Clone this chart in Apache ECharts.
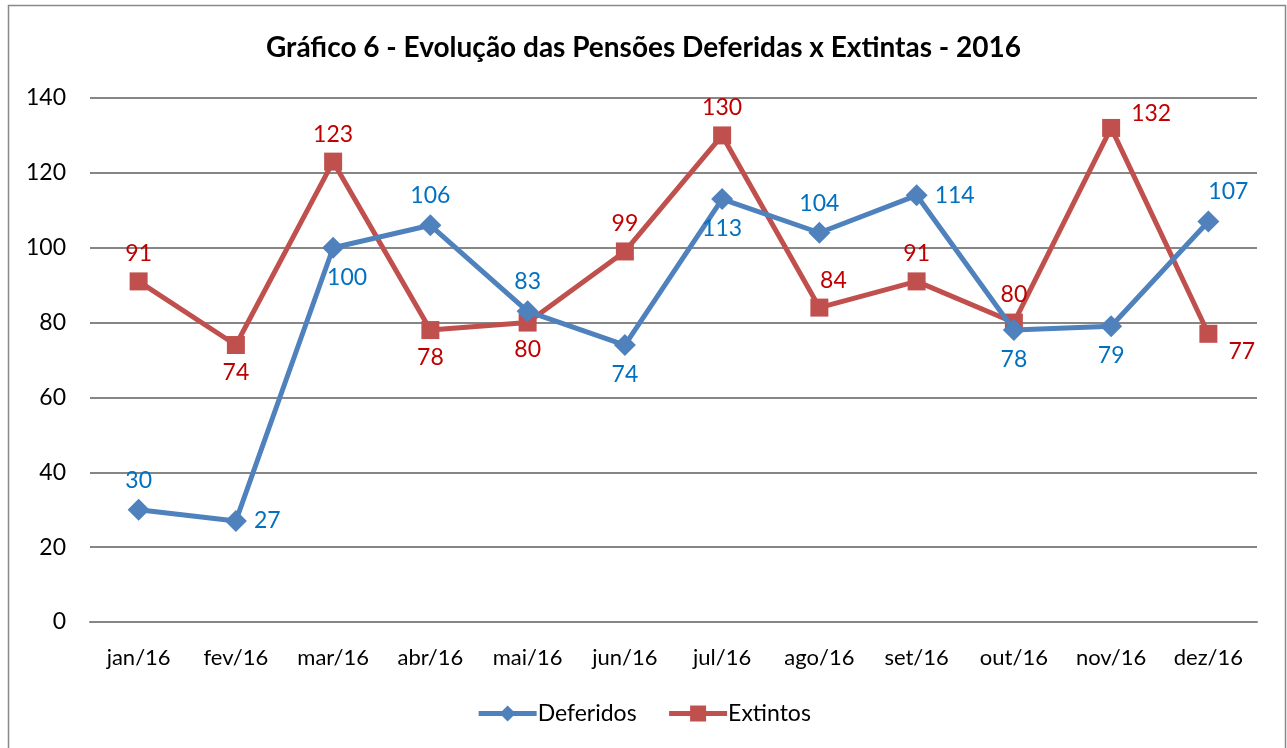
<!DOCTYPE html>
<html>
<head>
<meta charset="utf-8">
<script src="https://cdn.jsdelivr.net/npm/echarts@6/dist/echarts.min.js"></script>
<style>
  html, body { margin: 0; padding: 0; background: #fff; }
  #chart { width: 1287px; height: 748px; }
</style>
</head>
<body>
<div id="chart"></div>
<script>
const months = ['jan/16', 'fev/16', 'mar/16', 'abr/16', 'mai/16', 'jun/16', 'jul/16', 'ago/16', 'set/16', 'out/16', 'nov/16', 'dez/16']
const deferidos = [30, 27, 100, 106, 83, 74, 113, 104, 114, 78, 79, 107]
const extintos = [91, 74, 123, 78, 80, 99, 130, 84, 91, 80, 132, 77]

// where each data label sits relative to its point
const deferidosLabelPos = ['top', 'right', 'bottom', 'top', 'top', 'bottom', 'bottom', 'top', 'right', 'bottom', 'bottom', 'top']
const extintosLabelPos = ['top', 'bottom', 'top', 'bottom', 'bottom', 'top', 'top', 'top', 'top', 'top', 'right', 'right']
const deferidosLabelOffset = { 2: [14, 0], 11: [20, 0] }
const extintosLabelOffset = { 7: [14, 0], 10: [4, -14], 11: [4, 18] }

const fontFamily = 'Lato, "Open Sans", sans-serif'

function buildData(values, positions, offsets) {
  return values.map((v, i) => ({
    value: v,
    label: {
      position: positions[i],
      offset: offsets[i] || [0, 0]
    }
  }))
}

const chart = echarts.init(document.getElementById('chart'))
chart.setOption({
  backgroundColor: '#fff',
  animation: false,
  textStyle: { fontFamily: fontFamily },
  title: {
    text: 'Gráfico 6 - Evolução das Pensões Deferidas x Extintas - 2016',
    left: 'center',
    top: 29,
    textStyle: { fontSize: 28, fontWeight: 'bold', color: '#000', fontFamily: fontFamily }
  },
  graphic: [{
    type: 'rect',
    shape: { x: 8.5, y: 5.5, width: 1277, height: 760 },
    style: { fill: 'none', stroke: '#888', lineWidth: 1.5 },
    silent: true
  }],
  legend: {
    bottom: 18,
    left: 'center',
    itemWidth: 58,
    itemHeight: 20,
    itemGap: 30,
    lineStyle: { width: 5 },
    textStyle: { fontSize: 23, color: '#000', fontFamily: fontFamily, padding: [0, 0, 0, -4] },
    data: ['Deferidos', 'Extintos']
  },
  grid: { left: 90, right: 30, top: 98, bottom: 126 },
  xAxis: {
    type: 'category',
    data: months,
    boundaryGap: true,
    axisLine: { lineStyle: { color: '#868686', width: 2 } },
    axisTick: { show: false },
    axisLabel: { interval: 0, fontSize: 22, color: '#000', margin: 25, fontFamily: fontFamily }
  },
  yAxis: {
    type: 'value',
    min: 0,
    max: 140,
    interval: 20,
    axisLine: { show: false },
    axisTick: { show: false },
    axisLabel: { fontSize: 23, color: '#000', margin: 24, fontFamily: fontFamily },
    splitLine: { lineStyle: { color: '#868686', width: 2 } }
  },
  series: [
    {
      name: 'Deferidos',
      type: 'line',
      data: buildData(deferidos, deferidosLabelPos, deferidosLabelOffset),
      symbol: 'diamond',
      symbolSize: 22,
      lineStyle: { color: '#4F81BD', width: 5 },
      itemStyle: { color: '#4F81BD' },
      label: { show: true, fontSize: 23, color: '#0070C0', distance: 7, fontFamily: fontFamily },
      z: 3
    },
    {
      name: 'Extintos',
      type: 'line',
      data: buildData(extintos, extintosLabelPos, extintosLabelOffset),
      symbol: 'rect',
      symbolSize: 18,
      lineStyle: { color: '#C0504D', width: 5 },
      itemStyle: { color: '#C0504D' },
      label: { show: true, fontSize: 23, color: '#C00000', distance: 7, fontFamily: fontFamily },
      z: 2
    }
  ]
})
</script>
</body>
</html>
